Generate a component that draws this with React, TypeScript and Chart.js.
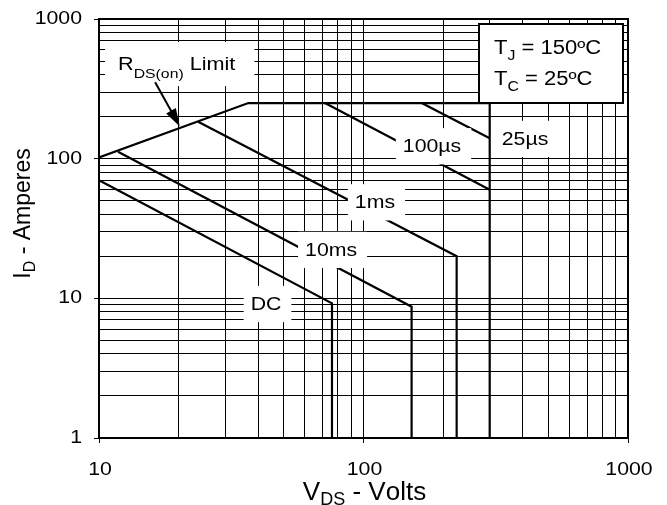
import React, { useEffect, useRef } from "react";
import { Chart, registerables } from "chart.js";

Chart.register(...registerables);

// ---------- data ----------
const X_MIN = 10;
const X_MAX = 1000;
const Y_MIN = 1;
const Y_MAX = 1000;

const xGridValues = [10, 20, 30, 40, 50, 60, 70, 80, 90, 100, 200, 300, 400, 500, 600, 700, 800, 900, 1000];
const yGridValues = [1, 2, 3, 4, 5, 6, 7, 8, 9, 10, 20, 30, 40, 50, 60, 70, 80, 90, 100, 200, 300, 400, 500, 600, 700, 800, 900, 1000];
const xTickLabels = [10, 100, 1000];
const yTickLabels = [1, 10, 100, 1000];

// SOA boundary: RDS(on) limit, current limit, voltage limit
const boundaryV = [10, 36.7, 300, 300];
const boundaryI = [102, 250, 250, 1];
const us25V = [166, 300];
const us25I = [250, 140];
const us100V = [71.5, 300];
const us100I = [250, 60];
const ms1V = [23.7, 225, 225];
const ms1I = [184, 20, 1];
const ms10V = [11.8, 152, 152];
const ms10I = [112, 8.7, 1];
const dcV = [10, 76, 76];
const dcI = [70, 9.2, 1];

const labelTexts = ["100µs", "25µs", "1ms", "10ms", "DC"];
const labelV = [181.6, 408, 110.5, 75.4, 42.8];
const labelI = [123.7, 139.7, 49.1, 22.4, 9.18];

const rdsLabelV = 11.8;
const rdsLabelI = 480;
const arrowFromV = 16.3;
const arrowFromI = 353;
const arrowToV = 20.2;
const arrowToI = 170;

const condLine1 = [{ t: "T" }, { t: "J", sub: true }, { t: " = 150ºC" }];
const condLine2 = [{ t: "T" }, { t: "C", sub: true }, { t: " = 25ºC" }];
const xTitle = [{ t: "V" }, { t: "DS", sub: true }, { t: " - Volts" }];
const yTitle = [{ t: "I" }, { t: "D", sub: true }, { t: " - Amperes" }];
const rdsLabel = [{ t: "R" }, { t: "DS(on)", sub: true }, { t: " Limit" }];

// ---------- helpers ----------
const FONT = '"Liberation Sans", Arial, Helvetica, sans-serif';
type Run = { t: string; sub?: boolean };

function measureRuns(ctx: CanvasRenderingContext2D, runs: Run[], size: number, subSize: number) {
  let w = 0;
  for (const r of runs) {
    ctx.font = `${r.sub ? subSize : size}px ${FONT}`;
    w += ctx.measureText(r.t).width;
  }
  return w;
}

function drawRuns(
  ctx: CanvasRenderingContext2D,
  runs: Run[],
  x: number,
  baseline: number,
  size: number,
  sx: number,
  align: "left" | "center" | "right",
  subSize: number,
  subDy: number
) {
  (ctx as any).fontKerning = "none";
  const w = measureRuns(ctx, runs, size, subSize) * sx;
  const start = align === "left" ? x : align === "center" ? x - w / 2 : x - w;
  ctx.save();
  ctx.translate(start, baseline);
  ctx.scale(sx, 1);
  ctx.textAlign = "left";
  ctx.textBaseline = "alphabetic";
  ctx.fillStyle = "#000";
  let cx = 0;
  for (const r of runs) {
    ctx.font = `${r.sub ? subSize : size}px ${FONT}`;
    ctx.fillText(r.t, cx, r.sub ? subDy : 0);
    cx += ctx.measureText(r.t).width;
  }
  ctx.restore();
  return { left: start, right: start + w };
}

const isPow10 = (v: number) => Math.abs(Math.log10(v) - Math.round(Math.log10(v))) < 1e-9;

const pts = (vs: number[], is: number[]) => vs.map((v, k) => ({ x: v, y: is[k] }));

const overlayPlugin = {
  id: "soaOverlay",
  afterDatasetsDraw(chart: any) {
    const ctx: CanvasRenderingContext2D = chart.ctx;
    const xs = chart.scales.x;
    const ys = chart.scales.y;
    const area = chart.chartArea;
    const LBL = 18.5;
    const SX = 1.15;
    const cap = LBL * 0.716;

    ctx.save();
    // curve labels with white backgrounds
    labelTexts.forEach((txt, k) => {
      const px = xs.getPixelForValue(labelV[k]);
      const py = ys.getPixelForValue(labelI[k]);
      ctx.font = `${LBL}px ${FONT}`;
      const w = ctx.measureText(txt).width * SX;
      const l = px - w / 2;
      ctx.fillStyle = "#fff";
      ctx.fillRect(l - 7, py - cap / 2 - 11, w + 17, cap + 23);
      drawRuns(ctx, [{ t: txt }], px, py + cap / 2, LBL, SX, "center", 13, 0);
    });

    // RDS(on) label
    {
      const px = xs.getPixelForValue(rdsLabelV);
      const py = ys.getPixelForValue(rdsLabelI);
      const w = measureRuns(ctx, rdsLabel, LBL, 13.5) * 1.17;
      ctx.fillStyle = "#fff";
      ctx.fillRect(px - 13, py - cap / 2 - 15, w + 32, cap + 31);
      drawRuns(ctx, rdsLabel, px, py + cap / 2, LBL, 1.17, "left", 13.5, 8);

      const ax = xs.getPixelForValue(arrowFromV);
      const ay = ys.getPixelForValue(arrowFromI);
      const bx = xs.getPixelForValue(arrowToV);
      const by = ys.getPixelForValue(arrowToI);
      const ang = Math.atan2(by - ay, bx - ax);
      const hl = 18;
      const hw = 5.5;
      ctx.strokeStyle = "#000";
      ctx.lineWidth = 2;
      ctx.beginPath();
      ctx.moveTo(ax, ay);
      ctx.lineTo(bx - Math.cos(ang) * (hl - 2), by - Math.sin(ang) * (hl - 2));
      ctx.stroke();
      ctx.fillStyle = "#000";
      ctx.beginPath();
      ctx.moveTo(bx, by);
      ctx.lineTo(bx - Math.cos(ang) * hl - Math.sin(ang) * hw, by - Math.sin(ang) * hl + Math.cos(ang) * hw);
      ctx.lineTo(bx - Math.cos(ang) * hl + Math.sin(ang) * hw, by - Math.sin(ang) * hl - Math.cos(ang) * hw);
      ctx.closePath();
      ctx.fill();
    }

    // conditions box
    {
      const bl = area.right - 149;
      const bt = area.top + 5;
      ctx.fillStyle = "#fff";
      ctx.fillRect(bl, bt, 144, 79);
      ctx.strokeStyle = "#000";
      ctx.lineWidth = 2;
      ctx.strokeRect(bl, bt, 144, 79);
      drawRuns(ctx, condLine1, bl + 15, bt + 29.5, 19.5, 1.13, "left", 14, 6.5);
      drawRuns(ctx, condLine2, bl + 15, bt + 60.5, 19.5, 1.13, "left", 14, 6.5);
    }

    // plot border
    ctx.strokeStyle = "#000";
    ctx.lineWidth = 2;
    ctx.strokeRect(Math.round(area.left), Math.round(area.top), Math.round(area.right - area.left), Math.round(area.bottom - area.top));

    // tick labels
    yTickLabels.forEach((v) => {
      const py = ys.getPixelForValue(v);
      drawRuns(ctx, [{ t: String(v) }], area.left - 17, py - 1.5 + cap / 2, LBL, SX, "right", 13, 0);
    });
    xTickLabels.forEach((v) => {
      const px = xs.getPixelForValue(v);
      drawRuns(ctx, [{ t: String(v) }], px + 1, area.bottom + 37, LBL, SX, "center", 13, 0);
    });

    // axis titles
    drawRuns(ctx, xTitle, (area.left + area.right) / 2 + 1, area.bottom + 62, 26, 1, "center", 18, 5);
    ctx.save();
    ctx.translate(30, (area.top + area.bottom) / 2 - 15);
    ctx.rotate(-Math.PI / 2);
    drawRuns(ctx, yTitle, 0, 0, 23, 1, "center", 16, 5);
    ctx.restore();

    ctx.restore();
  },
};

export default function App() {
  const ref = useRef<HTMLCanvasElement | null>(null);

  useEffect(() => {
    if (!ref.current) return;
    const lineDs = (vs: number[], is: number[]) => ({
      data: pts(vs, is),
      borderColor: "#000",
      borderWidth: 2.2,
      pointRadius: 0,
      showLine: true,
      fill: false,
      tension: 0,
      borderJoinStyle: "miter" as const,
    });
    const gridOpts = {
      color: "#000",
      lineWidth: 1,
      drawTicks: true,
      tickLength: 5,
      tickColor: (c: any) => (c.tick && isPow10(c.tick.value) ? "#000" : "rgba(0,0,0,0)"),
    };
    const chart = new Chart(ref.current, {
      type: "scatter",
      data: {
        datasets: [
          lineDs(boundaryV, boundaryI),
          lineDs(us25V, us25I),
          lineDs(us100V, us100I),
          lineDs(ms1V, ms1I),
          lineDs(ms10V, ms10I),
          lineDs(dcV, dcI),
        ],
      },
      options: {
        animation: false,
        responsive: false,
        devicePixelRatio: 1,
        layout: { padding: { top: 19, right: 39, left: 0, bottom: 0 } },
        plugins: { legend: { display: false }, tooltip: { enabled: false }, title: { display: false } },
        scales: {
          x: {
            type: "logarithmic",
            min: X_MIN,
            max: X_MAX,
            afterBuildTicks: (s: any) => {
              s.ticks = xGridValues.map((v) => ({ value: v, major: isPow10(v) }));
            },
            afterFit: (s: any) => {
              s.height = 67;
            },
            ticks: { display: false },
            grid: gridOpts,
            border: { display: false },
          },
          y: {
            type: "logarithmic",
            min: Y_MIN,
            max: Y_MAX,
            afterBuildTicks: (s: any) => {
              s.ticks = yGridValues.map((v) => ({ value: v, major: isPow10(v) }));
            },
            afterFit: (s: any) => {
              s.width = 99;
            },
            ticks: { display: false },
            grid: gridOpts,
            border: { display: false },
          },
        },
      } as any,
      plugins: [overlayPlugin],
    });
    return () => chart.destroy();
  }, []);

  return (
    <div style={{ position: "fixed", left: 0, top: 0, width: 667, height: 505, background: "#fff" }}>
      <canvas ref={ref} width={667} height={505} style={{ display: "block" }} />
    </div>
  );
}
